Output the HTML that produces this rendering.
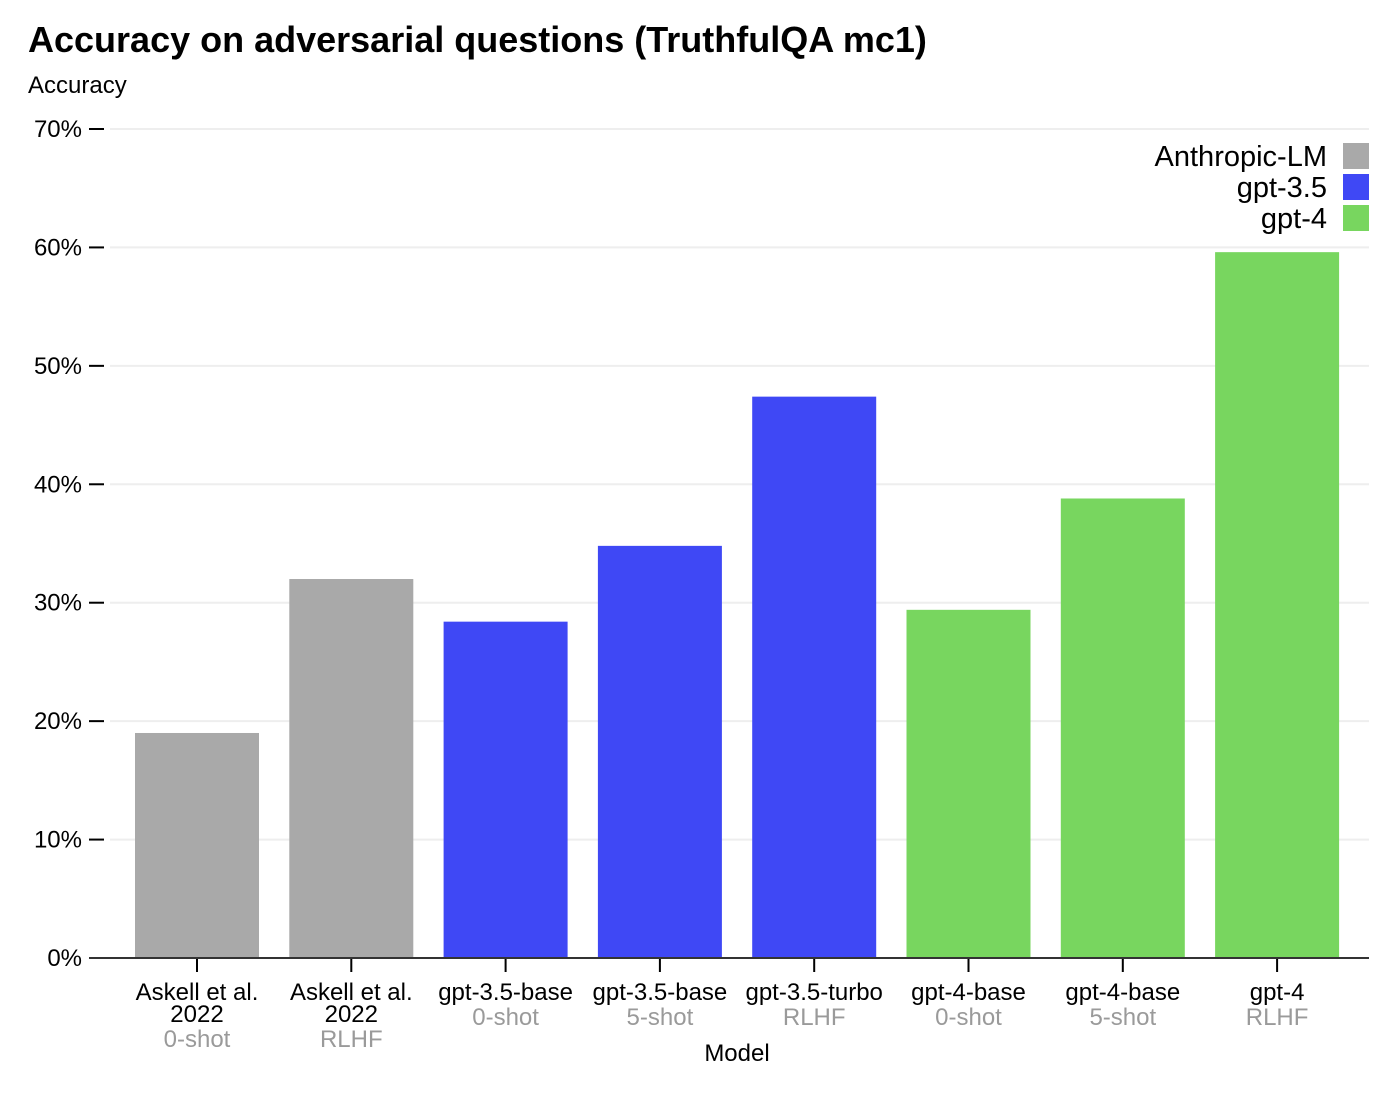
<!DOCTYPE html>
<html><head><meta charset="utf-8"><style>
body{margin:0;background:#fff;}
svg{display:block;font-family:"Liberation Sans",Arial,sans-serif;}
</style></head><body>
<svg id="chart" width="1400" height="1095">
<text x="28" y="52" font-size="36" font-weight="bold" fill="#000">Accuracy on adversarial questions (TruthfulQA mc1)</text>
<text x="28" y="93" font-size="24" fill="#000">Accuracy</text>
<text x="737" y="1061" font-size="24" fill="#000" text-anchor="middle">Model</text>
<g id="grid"></g><g id="bars"></g><g id="yaxis"></g><g id="xaxis"></g><g id="legend"></g>
</svg>
<script>
const categories=["Askell et al.|2022","Askell et al.|2022","gpt-3.5-base","gpt-3.5-base","gpt-3.5-turbo","gpt-4-base","gpt-4-base","gpt-4"];
const subLabels=["0-shot","RLHF","0-shot","5-shot","RLHF","0-shot","5-shot","RLHF"];
const values=[19.0,32.0,28.4,34.8,47.4,29.4,38.8,59.6];
const groups=["Anthropic-LM","Anthropic-LM","gpt-3.5","gpt-3.5","gpt-3.5","gpt-4","gpt-4","gpt-4"];
const legendNames=["Anthropic-LM","gpt-3.5","gpt-4"];
const yTicks=[0,10,20,30,40,50,60,70];
const colors={"Anthropic-LM":"#a9a9a9","gpt-3.5":"#3f48f5","gpt-4":"#78d65f"};
const NS="http://www.w3.org/2000/svg";
function y(v){return 958-v*11.843;}
function xc(i){return 197+i*154.3;}
const bw=124;
function mk(tag,attrs,parent,text){const e=document.createElementNS(NS,tag);for(const k in attrs)e.setAttribute(k,attrs[k]);if(text!==undefined)e.textContent=text;document.getElementById(parent).appendChild(e);return e;}
yTicks.forEach(t=>{
  if(t>0){const g=mk('line',{x1:110,x2:1369,y1:y(t),y2:y(t),stroke:'#eeeeee','stroke-width':2},'grid');
  
  }
  const tk=mk('line',{x1:89,x2:104,y1:y(t),y2:y(t),stroke:'#000','stroke-width':2},'yaxis');
  
  
  const lb=mk('text',{x:82,y:y(t)+8,'font-size':24,'text-anchor':'end',fill:'#000'},'yaxis',t+'%');
  
  
});
values.forEach((v,i)=>{
  const r=mk('rect',{x:xc(i)-bw/2,y:y(v),width:bw,height:958-y(v),fill:colors[groups[i]]},'bars');
  
  
  const tk=mk('line',{x1:xc(i),x2:xc(i),y1:958,y2:972,stroke:'#000','stroke-width':2},'xaxis');
  
  
  const lines=categories[i].split('|');
  lines.forEach((l,j)=>{
    const t=mk('text',{x:xc(i),y:1000+j*22,'font-size':24,'text-anchor':'middle',fill:'#000'},'xaxis',l);
    
    
  });
  const s=mk('text',{x:xc(i),y:1000+lines.length*22+3,'font-size':24,'text-anchor':'middle',fill:'#9a9a9a'},'xaxis',subLabels[i]);
  
  
});
const base=mk('line',{x1:89,x2:1369,y1:958,y2:958,stroke:'#333','stroke-width':2},'xaxis');


legendNames.forEach((n,i)=>{
  const yy=143+i*31;
  const r=mk('rect',{x:1343,y:yy,width:26,height:26,fill:colors[n]},'legend');
  
  
  const t=mk('text',{x:1327,y:yy+23,'font-size':29,'text-anchor':'end',fill:'#000'},'legend',n);
  
  
});
</script>
</body></html>
